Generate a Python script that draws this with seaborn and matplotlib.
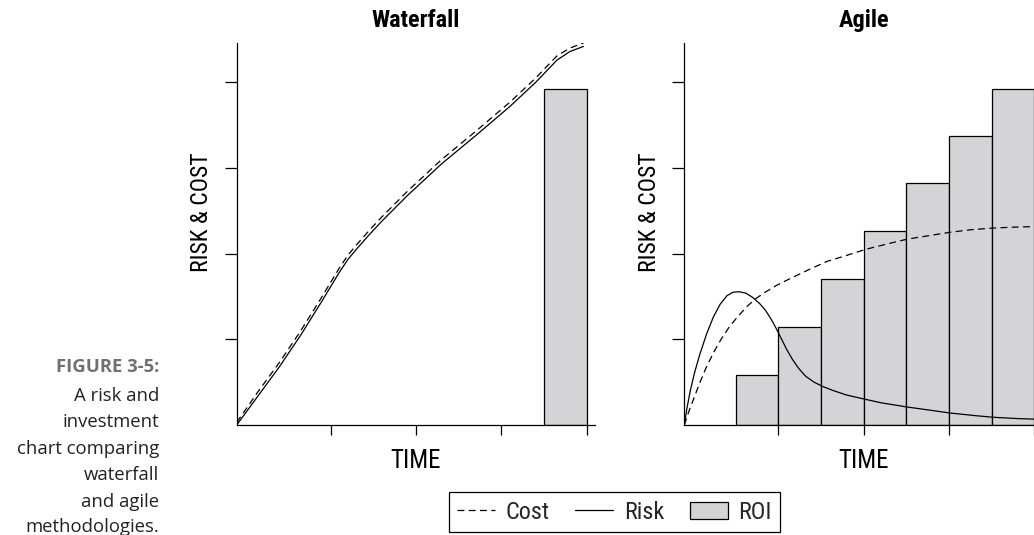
import matplotlib
matplotlib.use("Agg")
import matplotlib.pyplot as plt
import seaborn as sns
from matplotlib.lines import Line2D
from matplotlib.patches import Patch
from matplotlib import font_manager as fm

# ---------------- data ----------------
wf_x = [0, 0.25, 0.5, 0.75, 1.0, 1.2, 1.3, 1.4, 1.55, 1.7, 2.0, 2.4, 2.8, 3.2, 3.5, 3.75, 3.9, 4.06]
wf_risk = [0, 0.34, 0.68, 1.05, 1.45, 1.78, 1.93, 2.05, 2.22, 2.38, 2.68, 3.05, 3.38, 3.72, 4.00, 4.26, 4.36, 4.42]
wf_cost = [0.03, 0.39, 0.73, 1.10, 1.50, 1.83, 1.98, 2.10, 2.27, 2.43, 2.73, 3.10, 3.43, 3.77, 4.05, 4.31, 4.40, 4.46]
wf_roi_x = [3.85]
wf_roi = [3.92]

ag_risk_x = [0, 0.03, 0.07, 0.12, 0.18, 0.26, 0.34, 0.42, 0.5, 0.57, 0.64, 0.72, 0.8, 0.88,
             0.95, 1.02, 1.08, 1.14, 1.2, 1.27, 1.34, 1.42, 1.52, 1.62, 1.75, 1.9, 2.12,
             2.3, 2.61, 2.9, 3.11, 3.4, 3.62, 3.9, 4.2]
ag_risk = [0, 0.19, 0.40, 0.61, 0.82, 1.06, 1.26, 1.41, 1.51, 1.55, 1.556, 1.54, 1.49, 1.42,
           1.34, 1.23, 1.12, 1.00, 0.88, 0.76, 0.66, 0.57, 0.50, 0.45, 0.40, 0.35, 0.30,
           0.26, 0.21, 0.17, 0.14, 0.11, 0.09, 0.075, 0.065]
ag_cost_x = [0, 0.05, 0.1, 0.18, 0.26, 0.34, 0.43, 0.53, 0.63, 0.73, 0.83, 0.93, 1.08, 1.24,
             1.45, 1.67, 1.9, 2.12, 2.36, 2.61, 2.86, 3.11, 3.36, 3.62, 3.86, 4.2]
ag_cost = [0, 0.15, 0.28, 0.49, 0.68, 0.84, 1.0, 1.15, 1.27, 1.38, 1.47, 1.54, 1.63, 1.71,
           1.81, 1.91, 1.98, 2.05, 2.11, 2.17, 2.21, 2.25, 2.28, 2.30, 2.31, 2.32]
ag_roi_x = [0.85, 1.35, 1.85, 2.35, 2.85, 3.35, 3.85]
ag_roi = [0.58, 1.14, 1.71, 2.26, 2.82, 3.37, 3.92]

x_ticks = [1.1, 2.1, 3.1, 4.1]
y_ticks = [1, 2, 3, 4]
titles = ["Waterfall", "Agile"]
x_label = "TIME"
y_label = "RISK & COST"
legend_labels = ["Cost", "Risk", "ROI"]
caption_head = "FIGURE 3-5:"
caption_lines = ["A risk and", "investment", "chart comparing", "waterfall",
                 "and agile", "methodologies."]

# ---------------- style ----------------
sns.set_theme(style="white")
avail = {f.name for f in fm.fontManager.ttflist}
cond_candidates = ["Liberation Sans Narrow", "Roboto Condensed", "Open Sans Condensed",
                   "DejaVu Sans Condensed", "Noto Sans Display", "DejaVu Sans"]
COND = [f for f in cond_candidates if f in avail] + ["DejaVu Sans"]
plt.rcParams["font.family"] = COND
plt.rcParams["font.stretch"] = "condensed"
BAR_C = "#d4d4d6"
LW = 0.9
DASH = (0, (5.5, 3.5))

W, H = 1034, 535
fig = plt.figure(figsize=(W / 100, H / 100), dpi=100)

ax_w = 358.7 / W
ax_h = 382 / H
bottom = (H - 425) / H
lefts = [236.7 / W, 684.3 / W]

panels = [
    (wf_x, wf_risk, wf_x, wf_cost, wf_roi_x, wf_roi),
    (ag_risk_x, ag_risk, ag_cost_x, ag_cost, ag_roi_x, ag_roi),
]

for i, (rx, ry, cx, cy, bx, by) in enumerate(panels):
    ax = fig.add_axes([lefts[i], bottom, ax_w, ax_h])
    ax.bar(bx, by, width=0.5, color=BAR_C, edgecolor="black", linewidth=0.9, zorder=1)
    sns.lineplot(x=cx, y=cy, ax=ax, color="black", linewidth=LW, linestyle=DASH, zorder=3)
    sns.lineplot(x=rx, y=ry, ax=ax, color="black", linewidth=LW, zorder=3)
    ax.set_xlim(0, 4.2)
    ax.set_ylim(0, 4.46)
    ax.set_xticks(x_ticks)
    ax.set_yticks(y_ticks)
    ax.set_xticklabels([])
    ax.set_yticklabels([])
    ax.tick_params(axis="y", direction="out", length=8.6, width=0.9, color="black", left=True)
    ax.tick_params(axis="x", direction="out", length=7.2, width=0.9, color="black", bottom=True)
    for s in ["top", "right"]:
        ax.spines[s].set_visible(False)
    for s in ["left", "bottom"]:
        ax.spines[s].set_color("black")
        ax.spines[s].set_linewidth(0.9)
    ax.set_xlabel(x_label, fontsize=18, color="black", va="center", fontstretch="condensed")
    ax.xaxis.set_label_coords(0.5, -0.094)
    ax.set_ylabel(y_label, fontsize=17, color="black", va="center", fontstretch="condensed")
    ax.yaxis.set_label_coords(-0.0976, 0.556)
    ax.text(0.5, 1.06, titles[i], transform=ax.transAxes, ha="center", va="center",
            fontsize=17.5, fontweight="bold", color="black", fontstretch="condensed")
    ax.set_facecolor("white")

# ---------------- legend ----------------
handles = [
    Line2D([], [], color="black", linewidth=LW, linestyle=DASH),
    Line2D([], [], color="black", linewidth=LW),
    Patch(facecolor=BAR_C, edgecolor="black", linewidth=0.9),
]
leg = fig.legend(handles, legend_labels, loc="center",
                 bbox_to_anchor=(614.5 / W, 1 - 512.3 / H), ncol=3,
                 frameon=True, fancybox=False, edgecolor="black", framealpha=1,
                 prop={"size": 17.5, "stretch": "condensed"},
                 handlelength=1.55, handleheight=0.7,
                 handletextpad=0.45, columnspacing=1.05, borderpad=0.35,
                 borderaxespad=0)
leg.get_frame().set_linewidth(0.9)

# ---------------- caption ----------------
CAP = ["Open Sans", "DejaVu Sans"]
fig.text(159 / W, 1 - 372.3 / H, caption_head, ha="right", va="baseline",
         family=CAP, fontsize=13.3, fontweight="bold", color="#707070", fontstretch="normal")
baselines = [400.7, 426.7, 453.5, 480.5, 506.7, 532.0]
for line, b in zip(caption_lines, baselines):
    fig.text(159 / W, 1 - b / H, line, ha="right", va="baseline",
             family=CAP, fontsize=13.3, color="#222222", fontstretch="normal")

fig.savefig("out.png", dpi=100, facecolor="white")
